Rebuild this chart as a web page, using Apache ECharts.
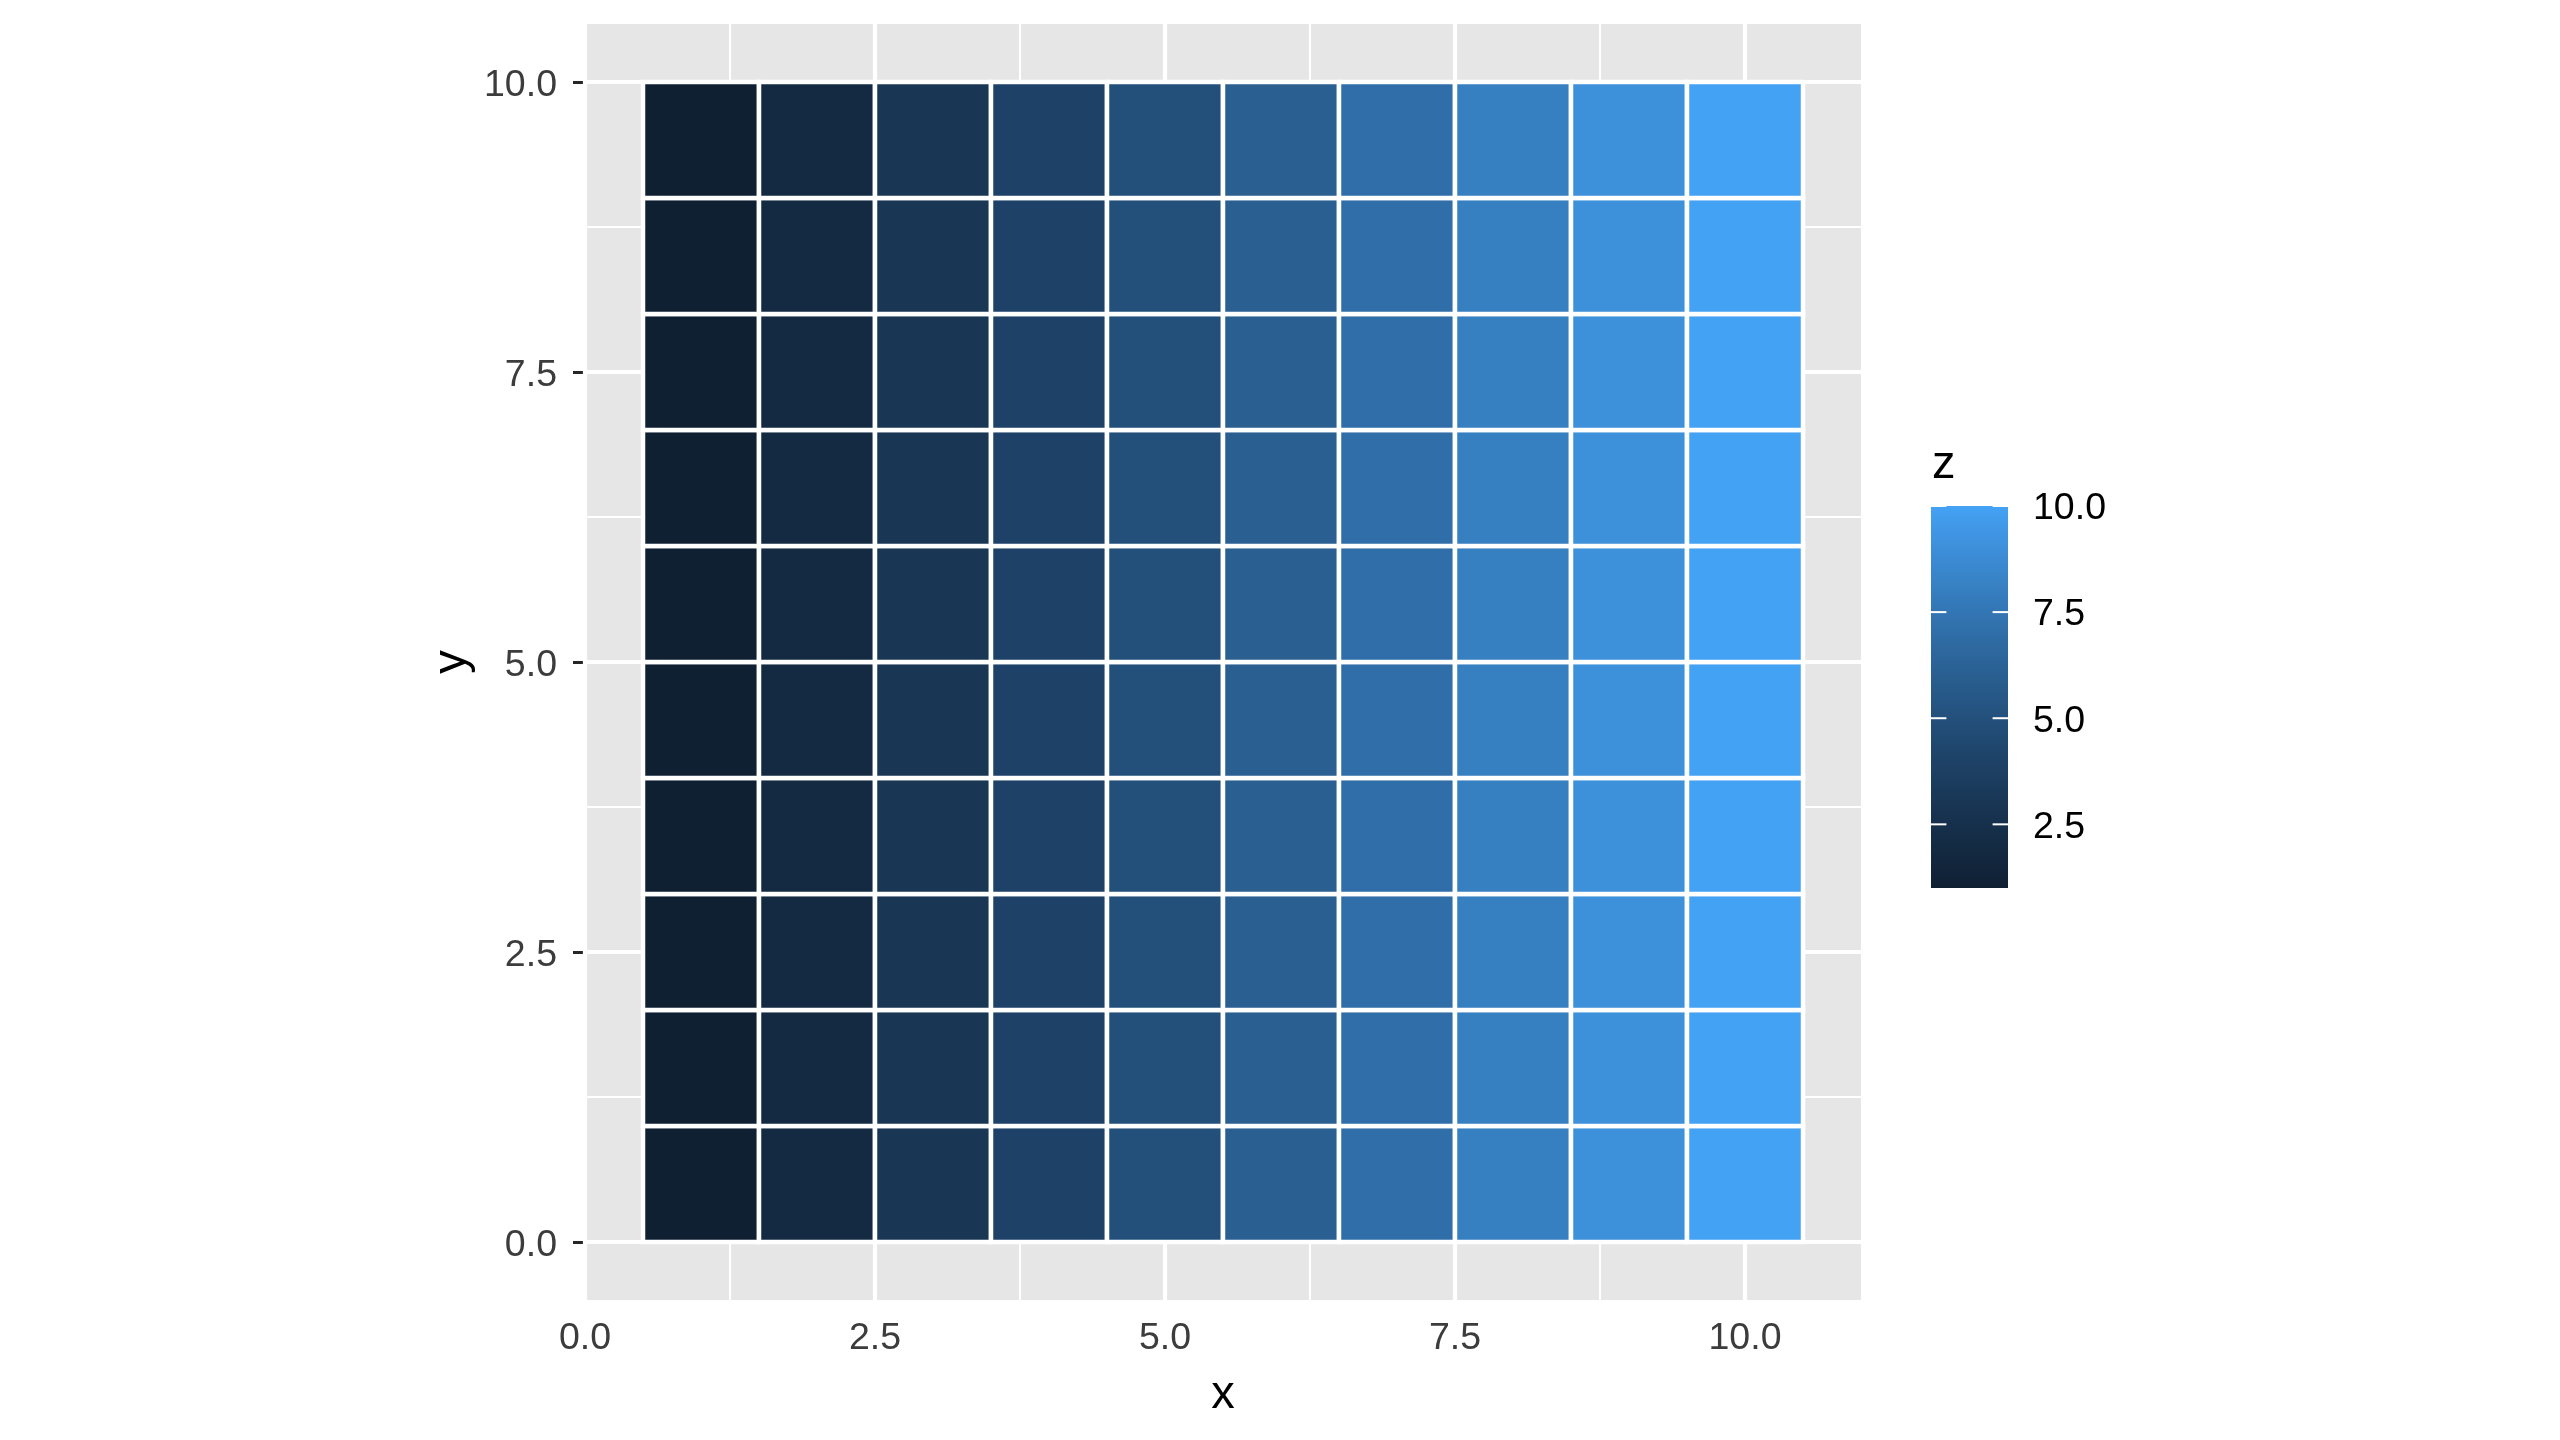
<!DOCTYPE html>
<html>
<head>
<meta charset="utf-8">
<script src="https://cdn.jsdelivr.net/npm/echarts@6/dist/echarts.min.js"></script>
<style>
html,body{margin:0;padding:0;background:#fff;}
#chart{width:2560px;height:1440px;}
</style>
</head>
<body>
<div id="chart"></div>
<script>
// ---- data ----
const xCenters = [1, 2, 3, 4, 5, 6, 7, 8, 9, 10];
const yCenters = [0.5, 1.5, 2.5, 3.5, 4.5, 5.5, 6.5, 7.5, 8.5, 9.5];
// z value of each tile, one row per yCenter (bottom to top), one column per xCenter
const zRows = [
  [1, 2, 3, 4, 5, 6, 7, 8, 9, 10],
  [1, 2, 3, 4, 5, 6, 7, 8, 9, 10],
  [1, 2, 3, 4, 5, 6, 7, 8, 9, 10],
  [1, 2, 3, 4, 5, 6, 7, 8, 9, 10],
  [1, 2, 3, 4, 5, 6, 7, 8, 9, 10],
  [1, 2, 3, 4, 5, 6, 7, 8, 9, 10],
  [1, 2, 3, 4, 5, 6, 7, 8, 9, 10],
  [1, 2, 3, 4, 5, 6, 7, 8, 9, 10],
  [1, 2, 3, 4, 5, 6, 7, 8, 9, 10],
  [1, 2, 3, 4, 5, 6, 7, 8, 9, 10]
];
const xBreaks = [0, 2.5, 5, 7.5, 10];
const yBreaks = [0, 2.5, 5, 7.5, 10];
const xMinorBreaks = [1.25, 3.75, 6.25, 8.75];
const yMinorBreaks = [1.25, 3.75, 6.25, 8.75];
const zBreaks = [2.5, 5, 7.5, 10];
const zLimits = [1, 10];
const xLimits = [0, 11];
const yLimits = [-0.5, 10.5];
const lowColor = '#132B43';
const highColor = '#56B1F7';

// ---- colour helpers ----
const WHITE = [0.95047, 1.0, 1.08883];
function hexToRgb(h){h=h.replace('#','');return [0,2,4].map(i=>parseInt(h.substr(i,2),16));}
function toLin(c){c/=255;return c<=0.04045?c/12.92:Math.pow((c+0.055)/1.055,2.4);}
function fromLinF(c){c=Math.max(0,Math.min(1,c));return c<=0.0031308?12.92*c:1.055*Math.pow(c,1/2.4)-0.055;}
// the reference picture shows colours as rendered through a gamma-1.8 device
function display(rgb){return rgb.map(v=>Math.round(255*Math.pow(toLin(v),1/1.8)));}
function css(rgb){return 'rgb('+display(rgb).join(',')+')';}
function cssHex(h){return css(hexToRgb(h));}
function rgbToLab(rgb){
  const [r,g,b]=rgb.map(toLin);
  const X=(0.4124*r+0.3576*g+0.1805*b)/WHITE[0];
  const Y=(0.2126*r+0.7152*g+0.0722*b)/WHITE[1];
  const Z=(0.0193*r+0.1192*g+0.9505*b)/WHITE[2];
  const f=t=>t>0.008856?Math.cbrt(t):7.787*t+16/116;
  const fx=f(X),fy=f(Y),fz=f(Z);
  return [116*fy-16,500*(fx-fy),200*(fy-fz)];
}
function labToRgb(lab){
  const [L,a,b]=lab;
  const fy=(L+16)/116,fx=fy+a/500,fz=fy-b/200;
  const fi=t=>{const t3=t*t*t;return t3>0.008856?t3:(t-16/116)/7.787;};
  const X=fi(fx)*WHITE[0],Y=fi(fy)*WHITE[1],Z=fi(fz)*WHITE[2];
  const r=3.2406*X-1.5372*Y-0.4986*Z;
  const g=-0.9689*X+1.8758*Y+0.0415*Z;
  const bb=0.0557*X-0.2040*Y+1.0570*Z;
  return [r,g,bb].map(v=>Math.round(fromLinF(v)*255));
}
const labLow=rgbToLab(hexToRgb(lowColor)), labHigh=rgbToLab(hexToRgb(highColor));
function pal(z){
  let t=(z-zLimits[0])/(zLimits[1]-zLimits[0]);
  t=Math.max(0,Math.min(1,t));
  const lab=labLow.map((v,i)=>v+(labHigh[i]-v)*t);
  return css(labToRgb(lab));
}

// ---- build series data ----
const tileData=[];
yCenters.forEach((y,ri)=>{xCenters.forEach((x,ci)=>{tileData.push([x,y,zRows[ri][ci]]);});});
const vLines=[].concat(xBreaks.map(v=>[v,1]), xMinorBreaks.map(v=>[v,0]));
const hLines=[].concat(yBreaks.map(v=>[v,1]), yMinorBreaks.map(v=>[v,0]));

const FONT='Liberation Sans';
const MAJOR_W=4.2, MINOR_W=2.1;
const PANEL=cssHex('#EBEBEB');
const TICKTXT=cssHex('#4D4D4D');
const TICKLINE=cssHex('#333333');

const gradStops=[];
for(let i=0;i<=30;i++){const t=i/30;gradStops.push({offset:t,color:pal(zLimits[0]+t*(zLimits[1]-zLimits[0]))});}

const chart=echarts.init(document.getElementById('chart'),null,{renderer:'canvas'});
const option={
  animation:false,
  backgroundColor:'#ffffff',
  grid:[
    {left:585,top:24,width:1276,height:1276,show:true,backgroundColor:PANEL,borderWidth:0,containLabel:false},
    {left:1931,top:506,width:77,height:382,show:false,containLabel:false}
  ],
  xAxis:[
    {type:'value',gridIndex:0,min:xLimits[0],max:xLimits[1],
     axisLine:{show:false},
     axisTick:{show:true,customValues:xBreaks,length:12,lineStyle:{color:TICKLINE,width:3}},
     axisLabel:{customValues:xBreaks,formatter:v=>Number(v).toFixed(1),margin:20,fontSize:37.5,color:TICKTXT,fontFamily:FONT},
     splitLine:{show:false},
     name:'x',nameLocation:'middle',nameGap:72,nameTextStyle:{fontSize:47,color:'#000000',fontFamily:FONT}},
    {type:'value',gridIndex:1,min:0,max:1,show:false}
  ],
  yAxis:[
    {type:'value',gridIndex:0,min:yLimits[0],max:yLimits[1],
     axisLine:{show:false},
     axisTick:{show:true,customValues:yBreaks,length:12,lineStyle:{color:TICKLINE,width:3}},
     axisLabel:{customValues:yBreaks,formatter:v=>'{t|'+Number(v).toFixed(1)+'}',margin:28,
       rich:{t:{padding:[7,0,0,0],fontSize:37.5,color:TICKTXT,fontFamily:FONT}},
       fontSize:37.5,color:TICKTXT,fontFamily:FONT},
     splitLine:{show:false},
     name:'y',nameLocation:'middle',nameGap:109,nameRotate:90,nameTextStyle:{fontSize:47,color:'#000000',fontFamily:FONT}},
    {type:'value',gridIndex:1,min:zLimits[0],max:zLimits[1],show:false}
  ],
  graphic:[
    {type:'text',style:{x:1932,y:465,text:'z',fontSize:47,fontFamily:FONT,fill:'#000000',verticalAlign:'middle'}}
  ],
  series:[
    {type:'custom',xAxisIndex:0,yAxisIndex:0,z:1,silent:true,data:vLines,
     renderItem:(params,api)=>{
       const v=api.value(0),major=api.value(1);
       const p0=api.coord([v,yLimits[0]]),p1=api.coord([v,yLimits[1]]);
       return {type:'line',shape:{x1:p0[0],y1:p0[1],x2:p1[0],y2:p1[1]},style:{stroke:'#ffffff',lineWidth:major?MAJOR_W:MINOR_W}};
     }},
    {type:'custom',xAxisIndex:0,yAxisIndex:0,z:1,silent:true,data:hLines,
     encode:{x:-1,y:0},
     renderItem:(params,api)=>{
       const v=api.value(0),major=api.value(1);
       const p0=api.coord([xLimits[0],v]),p1=api.coord([xLimits[1],v]);
       return {type:'line',shape:{x1:p0[0],y1:p0[1],x2:p1[0],y2:p1[1]},style:{stroke:'#ffffff',lineWidth:major?MAJOR_W:MINOR_W}};
     }},
    {type:'custom',xAxisIndex:0,yAxisIndex:0,z:3,silent:true,data:tileData,
     encode:{x:0,y:1},
     renderItem:(params,api)=>{
       const x=api.value(0),y=api.value(1),zv=api.value(2);
       const p0=api.coord([x-0.5,y+0.5]),p1=api.coord([x+0.5,y-0.5]);
       return {type:'rect',shape:{x:p0[0],y:p0[1],width:p1[0]-p0[0],height:p1[1]-p0[1]},
               style:{fill:pal(zv),stroke:'#ffffff',lineWidth:4.5}};
     }},
    {type:'custom',xAxisIndex:1,yAxisIndex:1,z:3,silent:true,data:[[zLimits[0],zLimits[1]]],
     encode:{y:[0,1]},
     renderItem:(params,api)=>{
       const lo=api.value(0),hi=api.value(1);
       const p0=api.coord([0,hi]),p1=api.coord([1,lo]);
       return {type:'rect',shape:{x:p0[0],y:p0[1],width:p1[0]-p0[0],height:p1[1]-p0[1]},
               style:{fill:{type:'linear',x:0,y:1,x2:0,y2:0,colorStops:gradStops}}};
     }},
    {type:'custom',xAxisIndex:1,yAxisIndex:1,z:4,silent:true,data:zBreaks.map(v=>[v]),
     encode:{y:0},
     renderItem:(params,api)=>{
       const v=api.value(0);
       const pl=api.coord([0,v]),pr=api.coord([1,v]);
       const w=pr[0]-pl[0],tl=w*0.2;
       return {type:'group',children:[
         {type:'line',shape:{x1:pl[0],y1:pl[1],x2:pl[0]+tl,y2:pl[1]},style:{stroke:'#ffffff',lineWidth:2}},
         {type:'line',shape:{x1:pr[0]-tl,y1:pr[1],x2:pr[0],y2:pr[1]},style:{stroke:'#ffffff',lineWidth:2}},
         {type:'text',style:{x:pr[0]+25,y:pr[1]+3,text:Number(v).toFixed(1),fontSize:37.5,fontFamily:FONT,fill:'#000000',verticalAlign:'middle',align:'left'}}
       ]};
     }}
  ]
};
chart.setOption(option);
</script>
</body>
</html>
